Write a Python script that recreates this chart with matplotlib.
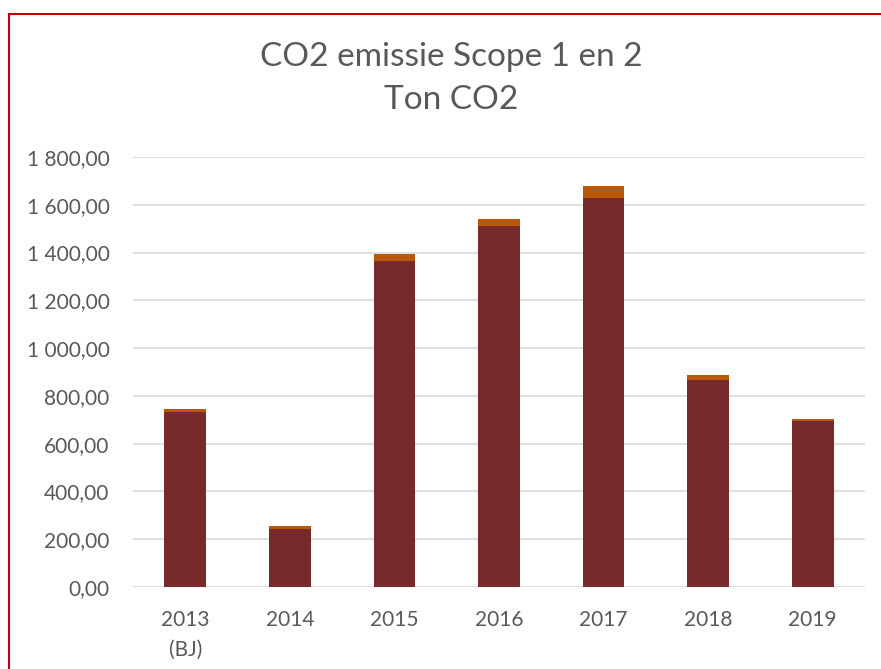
import matplotlib.pyplot as plt
import numpy as np
from matplotlib.patches import Rectangle

years = ['2013\n(BJ)', '2014', '2015', '2016', '2017', '2018', '2019']
scope1 = [731, 244, 1363, 1512, 1630, 865, 694]
scope2 = [13, 11, 31, 28, 47, 24, 9]

plt.rcParams['font.family'] = ['Lato', 'DejaVu Sans']
grey = '#595959'

fig = plt.figure(figsize=(8.81, 6.69), dpi=100)
ax = fig.add_axes([133 / 881, 1 - 587 / 669, 732 / 881, 430 / 669])

x = np.arange(len(years))
ax.bar(x, scope1, width=0.4, color='#782A2A', zorder=3)
ax.bar(x, scope2, width=0.4, bottom=scope1, color='#B9580A', zorder=3)

ax.set_xlim(-0.5, len(years) - 0.5)
ax.set_ylim(0, 1800)
ax.set_yticks(np.arange(0, 1801, 200))
ax.set_yticklabels([f'{v:,.2f}'.replace(',', ' ').replace('.', ',') for v in range(0, 1801, 200)])
ax.set_xticks(x)
ax.set_xticklabels(years, linespacing=1.65)
ax.tick_params(axis='both', length=0, colors=grey, labelsize=15)
ax.tick_params(axis='y', pad=17)
ax.tick_params(axis='x', pad=16.5)
ax.grid(axis='y', color='#D9D9D9', linewidth=1.2, zorder=0)
for s in ax.spines.values():
    s.set_visible(False)

fig.text(451 / 881, 1 - 57 / 669, 'CO2 emissie Scope 1 en 2', ha='center', va='center',
         fontsize=24, color=grey)
fig.text(451 / 881, 1 - 100 / 669, 'Ton CO2', ha='center', va='center',
         fontsize=24, color=grey)

# red frame, cut off on the right and bottom
fig.patches.append(Rectangle((8.5 / 881, -0.05), 1.2, 1 - 13.5 / 669 + 0.05,
                             transform=fig.transFigure, fill=False,
                             edgecolor='#C00000', linewidth=1.5))

fig.savefig('out.png', dpi=100)
